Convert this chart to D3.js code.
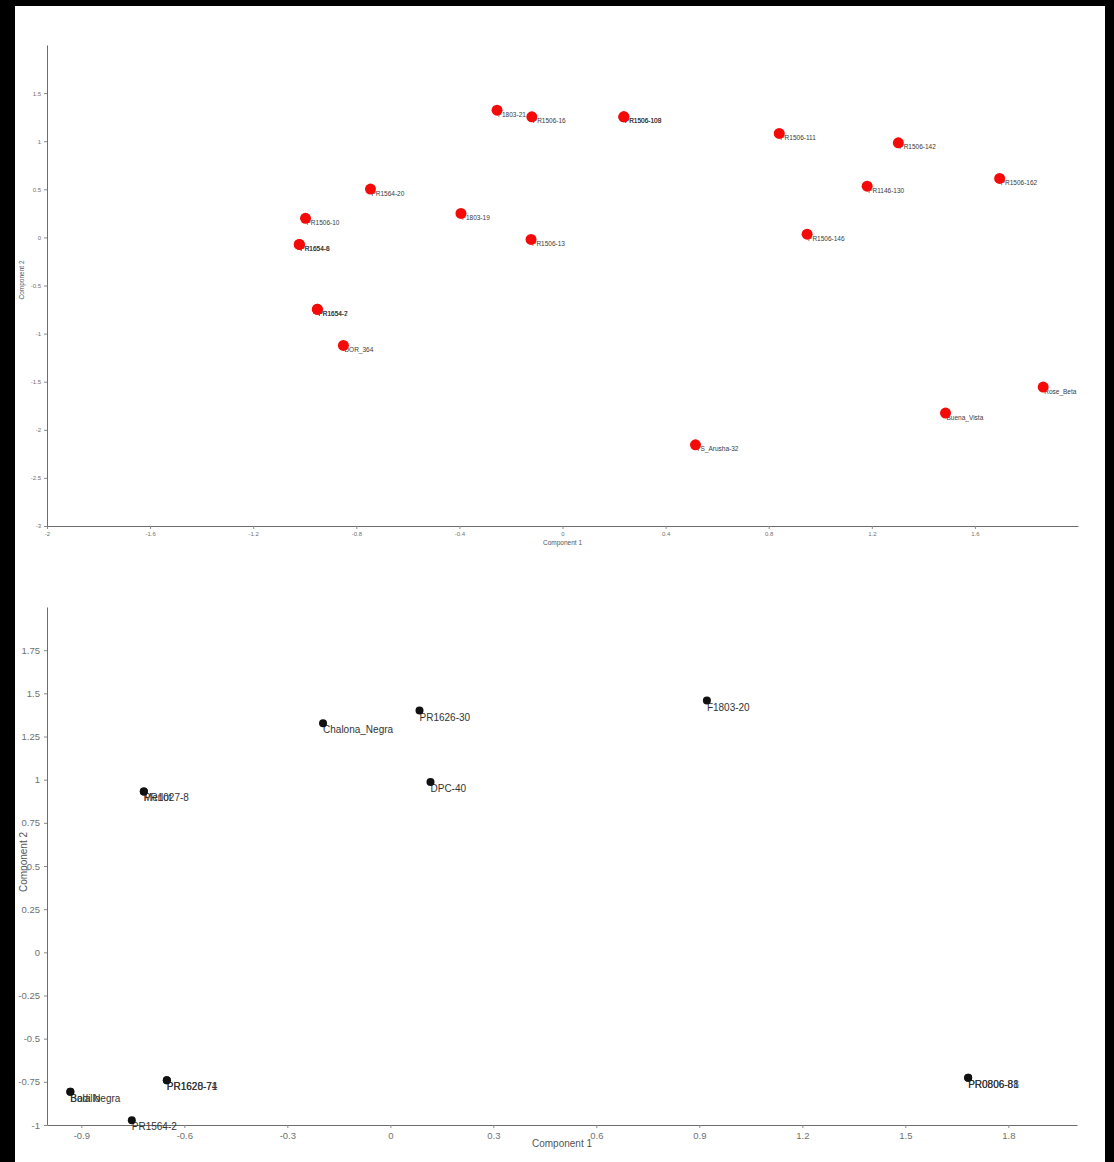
<!DOCTYPE html>
<html>
<head>
<meta charset="utf-8">
<script src="https://cdn.jsdelivr.net/npm/d3@7"></script>
<style>
  html, body { margin: 0; padding: 0; background: #000; }
  svg { display: block; }
  text { font-family: "Liberation Sans", Arial, sans-serif; }
</style>
</head>
<body>
<svg id="chart" width="1114" height="1162"></svg>
<script>
// ---- Upper panel: PCA scores (red accessions) ----
const topNames = ["F1803-21", "PR1506-16", "PR1506-109", "PR1506-108", "PR1506-111", "PR1506-142",
  "PR1506-162", "PR1146-130", "PR1564-20", "F1803-19", "PR1506-10", "PR1654-8", "PR1654-6",
  "PR1506-13", "PR1506-146", "PR1654-2", "PR1654-7", "DOR_364", "Buena_Vista", "Rose_Beta",
  "TS_Arusha-32"];
const topComp1 = [-0.254, -0.119, 0.238, 0.238, 0.841, 1.303, 1.696, 1.182, -0.745, -0.394,
  -0.997, -1.021, -1.021, -0.122, 0.949, -0.951, -0.951, -0.850, 1.486, 1.865, 0.516];
const topComp2 = [1.323, 1.254, 1.254, 1.254, 1.081, 0.983, 0.613, 0.533, 0.502, 0.249,
  0.198, -0.073, -0.073, -0.021, 0.034, -0.748, -0.748, -1.123, -1.826, -1.556, -2.156];
const topXTicks = [-2, -1.6, -1.2, -0.8, -0.4, 0, 0.4, 0.8, 1.2, 1.6];
const topYTicks = [-3, -2.5, -2, -1.5, -1, -0.5, 0, 0.5, 1, 1.5];

// ---- Lower panel: PCA scores (black accessions) ----
const botNames = ["PR1626-30", "F1803-20", "Chalona_Negra", "DPC-40", "PR1027-8", "Merlot",
  "PR1628-74", "PR1620-71", "Badillo", "Bola Negra", "PR1564-2", "PR0806-81", "PR0806-88"];
const botComp1 = [0.085, 0.922, -0.196, 0.117, -0.718, -0.718, -0.651, -0.651, -0.932, -0.932,
  -0.753, 1.683, 1.683];
const botComp2 = [1.400, 1.458, 1.327, 0.986, 0.932, 0.932, -0.741, -0.741, -0.808, -0.808,
  -0.972, -0.727, -0.727];
const botXTicks = [-0.9, -0.6, -0.3, 0, 0.3, 0.6, 0.9, 1.2, 1.5, 1.8];
const botYTicks = [-1, -0.75, -0.5, -0.25, 0, 0.25, 0.5, 0.75, 1, 1.25, 1.5, 1.75];

const svg = d3.select("#chart");
svg.append("rect").attr("x", 15).attr("y", 6).attr("width", 1090).attr("height", 1156)
  .attr("fill", "#fff");

const fmt = v => String(+v.toFixed(2));

function drawPanel(cfg) {
  const x = d3.scaleLinear().domain(cfg.xDomain).range(cfg.xRange);
  const y = d3.scaleLinear().domain(cfg.yDomain).range(cfg.yRange);
  const g = svg.append("g");

  const xAxis = g.append("g")
    .attr("transform", `translate(0,${cfg.yRange[0]})`)
    .call(d3.axisBottom(x).tickValues(cfg.xTicks).tickFormat(fmt)
      .tickSize(cfg.tick).tickSizeOuter(0).tickPadding(cfg.pad));
  const yAxis = g.append("g")
    .attr("transform", `translate(${cfg.xRange[0]},0)`)
    .call(d3.axisLeft(y).tickValues(cfg.yTicks).tickFormat(fmt)
      .tickSize(cfg.tick).tickSizeOuter(0).tickPadding(cfg.pad));
  [xAxis, yAxis].forEach(a => {
    a.select(".domain").attr("stroke", "#6d6d6d");
    a.selectAll(".tick line").attr("stroke", "#8a8a8a");
    a.selectAll(".tick text").attr("fill", "#707070").attr("font-size", cfg.tickFont)
      .attr("font-family", "Liberation Sans, Arial, sans-serif");
  });

  g.append("text")
    .attr("x", (cfg.xRange[0] + cfg.xRange[1]) / 2)
    .attr("y", cfg.xTitleY)
    .attr("text-anchor", "middle")
    .attr("font-size", cfg.titleFont).attr("fill", "#555")
    .text("Component 1");
  g.append("text")
    .attr("transform", `translate(${cfg.yTitleX},${cfg.yTitleY}) rotate(-90)`)
    .attr("text-anchor", "middle")
    .attr("font-size", cfg.titleFont).attr("fill", "#555")
    .text("Component 2");

  const pts = cfg.names.map((n, i) => ({ name: n, c1: cfg.c1[i], c2: cfg.c2[i] }));

  // labels sit under the markers, so the markers are drawn last
  g.append("g").selectAll("text").data(pts).join("text")
    .attr("x", d => x(d.c1) + cfg.labelDx)
    .attr("y", d => y(d.c2) + cfg.labelDy)
    .attr("font-size", cfg.labelFont)
    .attr("fill", cfg.labelColor)
    .text(d => d.name);

  g.append("g").selectAll("circle").data(pts).join("circle")
    .attr("cx", d => x(d.c1))
    .attr("cy", d => y(d.c2))
    .attr("r", cfg.r)
    .attr("fill", cfg.color);
}

drawPanel({
  names: topNames, c1: topComp1, c2: topComp2,
  xDomain: [-2, 2], xRange: [47, 1078],
  yDomain: [-3, 2], yRange: [526, 45],
  xTicks: topXTicks, yTicks: topYTicks,
  tick: 3, pad: 3, tickFont: "6px", titleFont: "6.5px",
  xTitleY: 545, yTitleX: 24, yTitleY: 280,
  labelDx: 1, labelDy: 6.5, labelFont: "6.5px", labelColor: "#3a3a3a",
  r: 5.5, color: "#f50a0a"
});

drawPanel({
  names: botNames, c1: botComp1, c2: botComp2,
  xDomain: [-1, 2], xRange: [47, 1077],
  yDomain: [-1, 2], yRange: [1125, 607],
  xTicks: botXTicks, yTicks: botYTicks,
  tick: 3, pad: 4, tickFont: "9.5px", titleFont: "10px",
  xTitleY: 1147, yTitleX: 27, yTitleY: 862,
  labelDx: 0, labelDy: 10, labelFont: "10px", labelColor: "#333",
  r: 4, color: "#111"
});
</script>
</body>
</html>
